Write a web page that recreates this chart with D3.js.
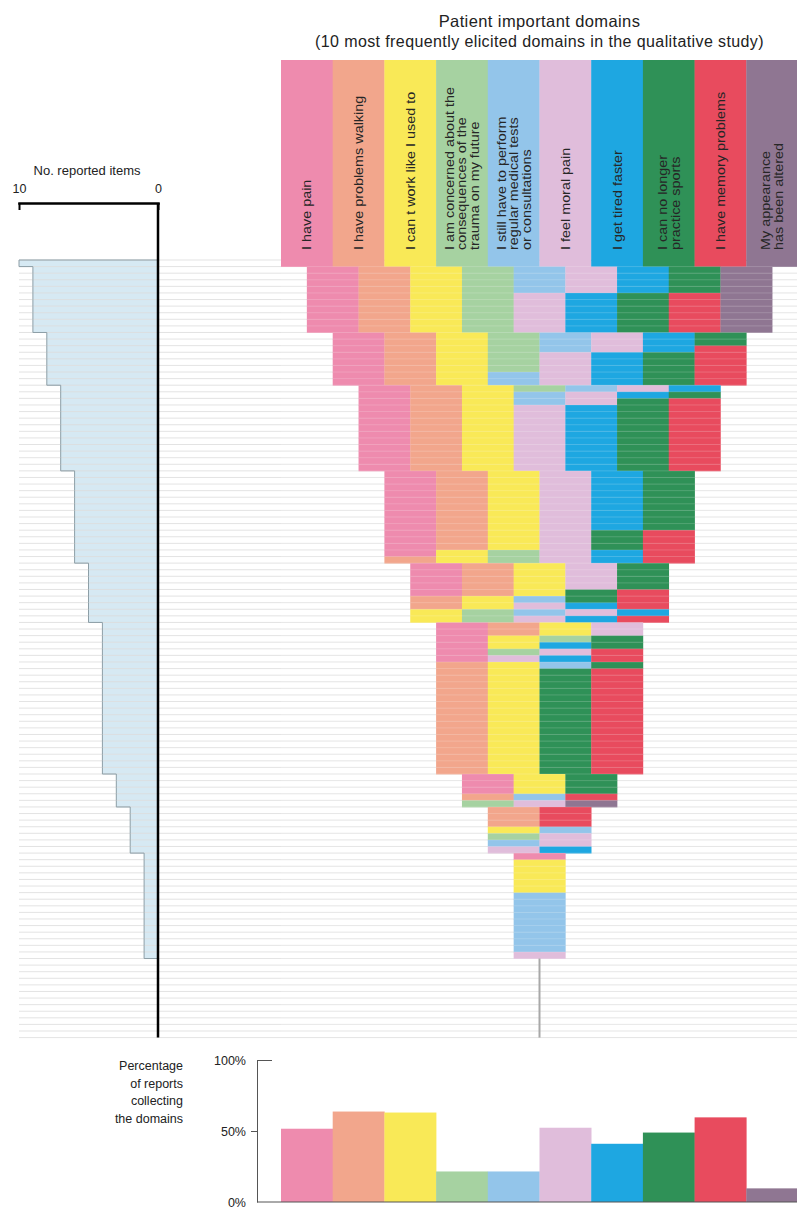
<!DOCTYPE html>
<html>
<head>
<meta charset="utf-8">
<script src="https://cdn.jsdelivr.net/npm/d3@7"></script>
<style>
body { margin: 0; background: #fff; }
svg { display: block; font-family: "Liberation Sans", Arial, sans-serif; }
</style>
</head>
<body>
<div class="svg-container"></div>
<script>
// domains, in column order (codes A..J)
const domainCodes = ["A", "B", "C", "D", "E", "F", "G", "H", "I", "J"];
const domainLabels = [
    ["I have pain"],
    ["I have problems walking"],
    ["I can t work like I used to"],
    ["I am concerned about the", "consequences of the", "trauma on my future"],
    ["I still have to perform", "regular medical tests", "or consultations"],
    ["I feel moral pain"],
    ["I get tired faster"],
    ["I can no longer", "practice sports"],
    ["I have memory problems"],
    ["My appearance", "has been altered"]
];
const domainColors = ["#ee8bae", "#f2a68c", "#f9e957", "#a6d2a1", "#93c5ea",
                      "#e0bddb", "#1ea7e1", "#2f9157", "#e84b5e", "#8f7692"];

// percentage of reports collecting each domain
const reportPct = [51.6, 63.7, 63, 21.5, 21.5, 52.3, 41, 48.9, 59.6, 9.6];

// reports, top to bottom: [number of reports, domains reported]
const rowGroups = [
    [1, "ABCDEFGHIJ"],
    [4, "ABCDEFGHJ"], [6, "ABCDFGHIJ"],
    [2, "ABCDEFGH"], [1, "ABCDEFGI"], [3, "ABCDFGHI"], [2, "ABCEFGHI"],
    [1, "ABCDEFG"], [1, "ABCEFGH"], [1, "ABCEFHI"], [10, "ABCFGHI"],
    [9, "ABCFGH"], [3, "ABCFHI"], [1, "ACDFGI"], [1, "BCDFGI"],
    [4, "ABCFH"], [1, "ABCHI"], [1, "BCEHI"], [1, "BCFGI"], [1, "CDEFG"], [1, "CDFGI"],
    [2, "ABCF"], [1, "ACDH"], [1, "ACGH"], [1, "ADFI"], [1, "AFGI"], [1, "BCEH"], [16, "BCHI"],
    [3, "ACH"], [1, "BEI"], [1, "DFJ"],
    [3, "BI"], [1, "CE"], [1, "DF"], [1, "EF"], [1, "FG"],
    [1, "A"], [5, "C"], [9, "E"], [1, "F"],
    [12, ""]
];

const countTicks = [10, 0];
const pctTicks = [0, 50, 100];
const pctLabel = ["Percentage", "of reports", "collecting", "the domains"];

const rows = rowGroups.flatMap(([n, codes]) => d3.range(n).map(() => codes.split("")));

const w = 797;
const h = 1208;

const svg = d3.select(".svg-container")
    .append("svg")
    .attr("width", w)
    .attr("height", h)
    .attr("viewBox", `0 0 ${w} ${h}`);

const xSlot = d3.scaleLinear().domain([-5, 5]).range([281, 798]);
const xBand = d3.scaleBand().domain(domainCodes).range([281, 798]);
const yRow = d3.scaleLinear().domain([0, rows.length]).range([260, 1037.6]);
const xCount = d3.scaleLinear().domain([10, 0]).range([19, 158]);
const yPct = d3.scaleLinear().domain([0, 100]).range([1202, 1060]);
const color = d3.scaleOrdinal().domain(domainCodes).range(domainColors);
const slotW = xSlot(1) - xSlot(0);

// title
svg.append("text").attr("x", xSlot(0)).attr("y", 27)
    .attr("text-anchor", "middle").style("font-size", "16.5px").style("letter-spacing", "0.4px")
    .style("fill", "#222")
    .text("Patient important domains");
svg.append("text").attr("x", xSlot(0)).attr("y", 47)
    .attr("text-anchor", "middle").style("font-size", "16px").style("letter-spacing", "0.4px")
    .style("fill", "#222")
    .text("(10 most frequently elicited domains in the qualitative study)");

// left panel: number of reported items
const filled = rows.map((r, i) => ({n: r.length, i})).filter(d => d.n > 0);

svg.append("g").selectAll("rect").data(filled).enter()
    .append("rect")
    .attr("x", d => xCount(d.n))
    .attr("y", d => yRow(d.i))
    .attr("width", d => xCount(0) - xCount(d.n))
    .attr("height", d => yRow(d.i + 1) - yRow(d.i) + 0.3)
    .style("fill", "#d6e9f3");

// row grid lines
svg.append("g").selectAll("line").data(d3.range(rows.length + 1)).enter()
    .append("line")
    .attr("x1", xCount(10)).attr("x2", w)
    .attr("y1", d => yRow(d)).attr("y2", d => yRow(d))
    .style("stroke", "#dcdcdc").style("stroke-width", 0.8);

const stepPts = [[xCount(0), yRow(0)]];
filled.forEach(d => {
    stepPts.push([xCount(d.n), yRow(d.i)]);
    stepPts.push([xCount(d.n), yRow(d.i + 1)]);
});
stepPts.push([xCount(0), yRow(filled[filled.length - 1].i + 1)]);
svg.append("path").attr("d", d3.line()(stepPts))
    .style("fill", "none").style("stroke", "#8d9ea6").style("stroke-width", 1);

// header columns
const header = svg.append("g");
header.selectAll("rect").data(domainCodes).enter()
    .append("rect")
    .attr("x", d => xBand(d))
    .attr("y", 60)
    .attr("width", xBand.bandwidth() + 0.3)
    .attr("height", yRow(0) - 60 + 0.5)
    .style("fill", d => color(d));

const fs = 12.5, lh = 12.6;
header.selectAll("text").data(domainCodes).enter()
    .append("text")
    .attr("transform", (d, k) => {
        const lines = domainLabels[k].length;
        const x0 = xBand(d) + xBand.bandwidth() / 2 - (lines - 1) * lh / 2 + 0.36 * fs;
        return `translate(${x0},250) rotate(-90) scale(1.15,1)`;
    })
    .style("font-size", fs + "px").style("fill", "#262626")
    .selectAll("tspan").data((d, k) => domainLabels[k]).enter()
    .append("tspan")
    .attr("x", 0)
    .attr("dy", (d, j) => j === 0 ? 0 : lh)
    .text(d => d);

// report rows: domains packed and centred
const cells = rows.flatMap((r, i) => r.map((c, j) => ({c, i, j, n: r.length})));
svg.append("g").selectAll("rect").data(cells).enter()
    .append("rect")
    .attr("x", d => xSlot(d.j - d.n / 2))
    .attr("y", d => yRow(d.i))
    .attr("width", slotW + 0.3)
    .attr("height", d => yRow(d.i + 1) - yRow(d.i) + 0.4)
    .style("fill", d => color(d.c));

// faint row lines through the coloured cells
svg.append("g").selectAll("line").data(d3.range(1, rows.length)).enter()
    .append("line")
    .attr("x1", xSlot(-5)).attr("x2", w)
    .attr("y1", d => yRow(d)).attr("y2", d => yRow(d))
    .style("stroke", "#fff").style("stroke-opacity", 0.22).style("stroke-width", 0.8);

// reports with no domain
const empty = rows.map((r, i) => i).filter(i => rows[i].length === 0);
svg.append("line")
    .attr("x1", xSlot(0)).attr("x2", xSlot(0))
    .attr("y1", yRow(d3.min(empty))).attr("y2", yRow(rows.length))
    .style("stroke", "#a8a8a8").style("stroke-width", 2);

// count axis
const countAxis = svg.append("g").attr("transform", "translate(0,203)")
    .call(d3.axisTop(xCount).tickValues(countTicks).tickSizeInner(-7).tickSizeOuter(0).tickPadding(10));
countAxis.select(".domain").style("stroke", "#000").style("stroke-width", 2.5)
    .attr("stroke-linecap", "square");
countAxis.selectAll(".tick line").style("stroke", "#000").style("stroke-width", 2);
countAxis.selectAll(".tick text").style("font-size", "12.5px").style("fill", "#222")
    .style("font-family", "Liberation Sans, Arial, sans-serif");

svg.append("line")
    .attr("x1", xCount(0)).attr("x2", xCount(0))
    .attr("y1", 203).attr("y2", yRow(rows.length))
    .style("stroke", "#000").style("stroke-width", 2.5);

svg.append("text").attr("x", 87).attr("y", 175)
    .attr("text-anchor", "middle").style("font-size", "13px").style("fill", "#222")
    .text("No. reported items");

// bottom bars: percentage of reports
svg.append("g").selectAll("rect").data(reportPct).enter()
    .append("rect")
    .attr("x", (d, k) => xBand(domainCodes[k]))
    .attr("y", d => yPct(d))
    .attr("width", xBand.bandwidth() + 0.3)
    .attr("height", d => yPct(0) - yPct(d))
    .style("fill", (d, k) => domainColors[k]);

const pctAxis = svg.append("g").attr("transform", "translate(257,0)")
    .call(d3.axisLeft(yPct).tickValues(pctTicks).tickFormat(d => d + "%").tickSizeOuter(0).tickSizeInner(6).tickPadding(5));
pctAxis.select(".domain").style("stroke", "#555");
pctAxis.selectAll(".tick line").style("stroke", "#555");
pctAxis.selectAll(".tick").filter(d => d === 100).select("line").attr("x2", 15);
pctAxis.selectAll(".tick").filter(d => d === 0).select("line").remove();
pctAxis.selectAll(".tick text").style("font-size", "12.5px").style("fill", "#222")
    .style("font-family", "Liberation Sans, Arial, sans-serif");

svg.append("line")
    .attr("x1", 257).attr("x2", w)
    .attr("y1", yPct(0)).attr("y2", yPct(0))
    .style("stroke", "#555");

svg.append("text").attr("text-anchor", "end")
    .style("font-size", "12.5px").style("fill", "#222")
    .selectAll("tspan").data(pctLabel).enter()
    .append("tspan")
    .attr("x", 183)
    .attr("y", (d, i) => 1070 + i * 17.5)
    .text(d => d);
</script>
</body>
</html>
